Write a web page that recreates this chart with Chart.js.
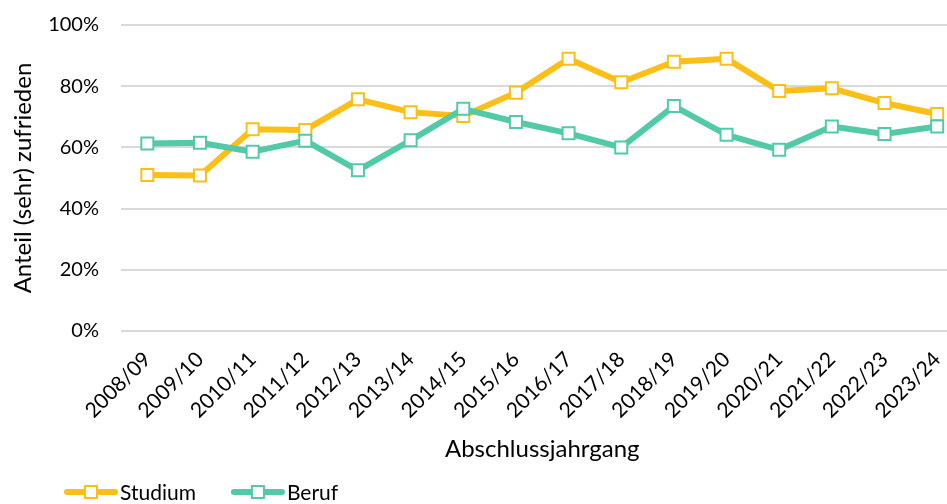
<!DOCTYPE html>
<html>
<head>
<meta charset="utf-8">
<script src="https://cdn.jsdelivr.net/npm/chart.js@4/dist/chart.umd.min.js"></script>
<style>
  html, body { margin: 0; padding: 0; background: #fff; overflow: hidden; width: 947px; height: 504px; }
  #wrap { position: absolute; left: 0; top: 0; width: 974px; height: 520px; }
</style>
</head>
<body>
<div id="wrap"><canvas id="c" width="974" height="520"></canvas></div>
<script>
const categories = ['2008/09','2009/10','2010/11','2011/12','2012/13','2013/14','2014/15','2015/16','2016/17','2017/18','2018/19','2019/20','2020/21','2021/22','2022/23','2023/24'];
const studium = [51.0, 50.8, 65.9, 65.7, 75.7, 71.5, 70.3, 77.9, 89.0, 81.3, 88.0, 89.0, 78.4, 79.3, 74.5, 70.9];
const beruf   = [61.3, 61.5, 58.6, 62.2, 52.5, 62.3, 72.6, 68.3, 64.6, 60.0, 73.5, 64.1, 59.2, 66.8, 64.4, 66.8];
const seriesNames = ['Studium', 'Beruf'];
const yTickValues = [0, 20, 40, 60, 80, 100];
const xTitle = 'Abschlussjahrgang';
const yTitle = 'Anteil (sehr) zufrieden';

const COL_S = '#FCBF17';
const COL_B = '#52CAA8';
const FONT = 'Lato, "Noto Sans", sans-serif';

const legendPlugin = {
  id: 'customLegend',
  afterDraw(chart) {
    const ctx = chart.ctx;
    const xs = chart.scales.x;
    const ys = chart.scales.y;
    const cy = xs.bottom + 22;
    let x = ys.left + 64;
    ctx.save();
    ctx.font = '21px ' + FONT;
    ctx.textBaseline = 'middle';
    ctx.textAlign = 'left';
    chart.data.datasets.forEach(ds => {
      const lineLen = 54;
      ctx.strokeStyle = ds.borderColor;
      ctx.lineWidth = 6;
      ctx.lineCap = 'round';
      ctx.beginPath();
      ctx.moveTo(x + 3, cy);
      ctx.lineTo(x + lineLen - 3, cy);
      ctx.stroke();
      const s = 12;
      ctx.fillStyle = '#fff';
      ctx.lineWidth = 2;
      ctx.fillRect(x + lineLen / 2 - s / 2, cy - s / 2, s, s);
      ctx.strokeRect(x + lineLen / 2 - s / 2, cy - s / 2, s, s);
      ctx.fillStyle = '#000';
      ctx.fillText(ds.label, x + lineLen + 2, cy + 1);
      x += lineLen + 2 + ctx.measureText(ds.label).width + 35;
    });
    ctx.restore();
  }
};

new Chart(document.getElementById('c'), {
  type: 'line',
  data: {
    labels: categories,
    datasets: [
      {
        label: seriesNames[0], data: studium, order: 1,
        borderColor: COL_S, backgroundColor: '#fff', borderWidth: 6,
        pointStyle: 'rect', pointRadius: 8.5, pointBorderWidth: 2,
        pointBorderColor: COL_S, pointBackgroundColor: '#fff', tension: 0,
        borderJoinStyle: 'round', borderCapStyle: 'round'
      },
      {
        label: seriesNames[1], data: beruf, order: 0,
        borderColor: COL_B, backgroundColor: '#fff', borderWidth: 6,
        pointStyle: 'rect', pointRadius: 8.5, pointBorderWidth: 2,
        pointBorderColor: COL_B, pointBackgroundColor: '#fff', tension: 0,
        borderJoinStyle: 'round', borderCapStyle: 'round'
      }
    ]
  },
  options: {
    responsive: false,
    animation: false,
    events: [],
    layout: { padding: { left: 0, right: 5, top: 25, bottom: 50 } },
    plugins: { legend: { display: false }, tooltip: { enabled: false } },
    scales: {
      x: {
        offset: true,
        grid: { display: false, drawTicks: true, tickLength: 13, tickColor: 'rgba(0,0,0,0)' },
        border: { display: false },
        ticks: {
          color: '#000', font: { family: FONT, size: 21 },
          maxRotation: 45, minRotation: 45, autoSkip: false, padding: 3
        },
        title: {
          display: true, text: xTitle, color: '#000',
          font: { family: FONT, size: 24 }, padding: { top: 0, bottom: 6 }
        },
        afterFit: s => { s.height = 139; }
      },
      y: {
        min: 0, max: 100,
        afterBuildTicks: s => { s.ticks = yTickValues.map(v => ({ value: v })); },
        grid: { color: '#d9d9d9', lineWidth: 2, drawTicks: true, tickLength: 19, tickColor: 'rgba(0,0,0,0)' },
        border: { display: false },
        ticks: {
          color: '#000', font: { family: FONT, size: 20 }, padding: 3,
          callback: v => v + '%'
        },
        title: {
          display: true, text: yTitle, color: '#000',
          font: { family: FONT, size: 24 }, padding: { top: 9, bottom: 0 }
        },
        afterFit: s => { s.width = 121; }
      }
    }
  },
  plugins: [legendPlugin]
});
</script>
</body>
</html>
